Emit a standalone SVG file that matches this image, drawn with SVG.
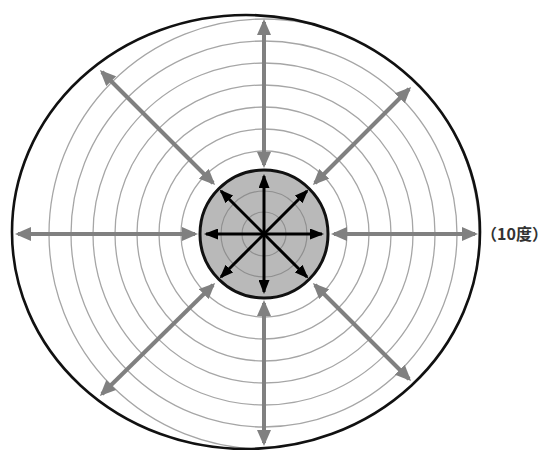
<svg xmlns="http://www.w3.org/2000/svg" width="547" height="450" viewBox="0 0 547 450">
  <style>
    .ring { fill: none; stroke: #a6a6a6; stroke-width: 1.3; }
    .iring { fill: none; stroke: #8f8f8f; stroke-width: 1.2; }
    .garrow { stroke: #808080; stroke-width: 4; fill: none; marker-start: url(#gh); marker-end: url(#gh); }
    .barrow { stroke: #000; stroke-width: 3; fill: none; marker-end: url(#bh); }
    .label { font-family: "Noto Sans CJK SC", "Noto Sans", sans-serif; font-size: 16px; font-weight: bold; fill: #333; }
  </style>
  <defs>
    <clipPath id="clipOuter">
      <ellipse cx="246" cy="232" rx="234" ry="217"/>
    </clipPath>
    <marker id="gh" viewBox="0 0 16 14" refX="13" refY="7" markerWidth="16" markerHeight="14" markerUnits="userSpaceOnUse" orient="auto-start-reverse">
      <path d="M0,0 L16,7 L0,14 Z" fill="#808080"/>
    </marker>
    <marker id="bh" viewBox="0 0 14 11" refX="12" refY="5.5" markerWidth="14" markerHeight="11" markerUnits="userSpaceOnUse" orient="auto">
      <path d="M0,0 L14,5.5 L0,11 Z" fill="#000"/>
    </marker>
  </defs>
  <rect width="547" height="450" fill="#fff"/>

  <g id="rings" clip-path="url(#clipOuter)">
    <circle class="ring" cx="264" cy="234" r="83"/>
    <circle class="ring" cx="264" cy="234" r="105"/>
    <circle class="ring" cx="264" cy="234" r="127"/>
    <circle class="ring" cx="264" cy="234" r="149"/>
    <circle class="ring" cx="264" cy="234" r="171"/>
    <circle class="ring" cx="264" cy="234" r="193"/>
    <circle class="ring" cx="264" cy="234" r="215"/>
  </g>

  <g id="outer-field">
    <ellipse cx="246" cy="232" rx="234" ry="217" fill="none" stroke="#111" stroke-width="2.6"/>
  </g>

  <g id="center">
    <circle cx="264" cy="234" r="64" fill="#b9b9b9" stroke="#111" stroke-width="3"/>
    <circle class="iring" cx="264" cy="234" r="43"/>
    <circle class="iring" cx="264" cy="234" r="22"/>
  </g>

  <g id="connectors">
    <line class="garrow" x1="264" y1="22" x2="264" y2="165"/>
    <line class="garrow" x1="264" y1="303" x2="264" y2="443"/>
    <line class="garrow" x1="18" y1="234" x2="195" y2="234"/>
    <line class="garrow" x1="334" y1="234" x2="475" y2="234"/>
    <line class="garrow" x1="102" y1="72" x2="213" y2="183"/>
    <line class="garrow" x1="409" y1="89" x2="315" y2="183"/>
    <line class="garrow" x1="102" y1="394" x2="213" y2="285"/>
    <line class="garrow" x1="409" y1="379" x2="315" y2="285"/>

    <line class="barrow" x1="264" y1="234" x2="264" y2="176"/>
    <line class="barrow" x1="264" y1="234" x2="264" y2="292"/>
    <line class="barrow" x1="264" y1="234" x2="206" y2="234"/>
    <line class="barrow" x1="264" y1="234" x2="322" y2="234"/>
    <line class="barrow" x1="264" y1="234" x2="221" y2="191"/>
    <line class="barrow" x1="264" y1="234" x2="307" y2="191"/>
    <line class="barrow" x1="264" y1="234" x2="221" y2="277"/>
    <line class="barrow" x1="264" y1="234" x2="307" y2="277"/>
  </g>

  <g id="label">
    <text class="label" x="481" y="240">（10度）</text>
  </g>
</svg>
